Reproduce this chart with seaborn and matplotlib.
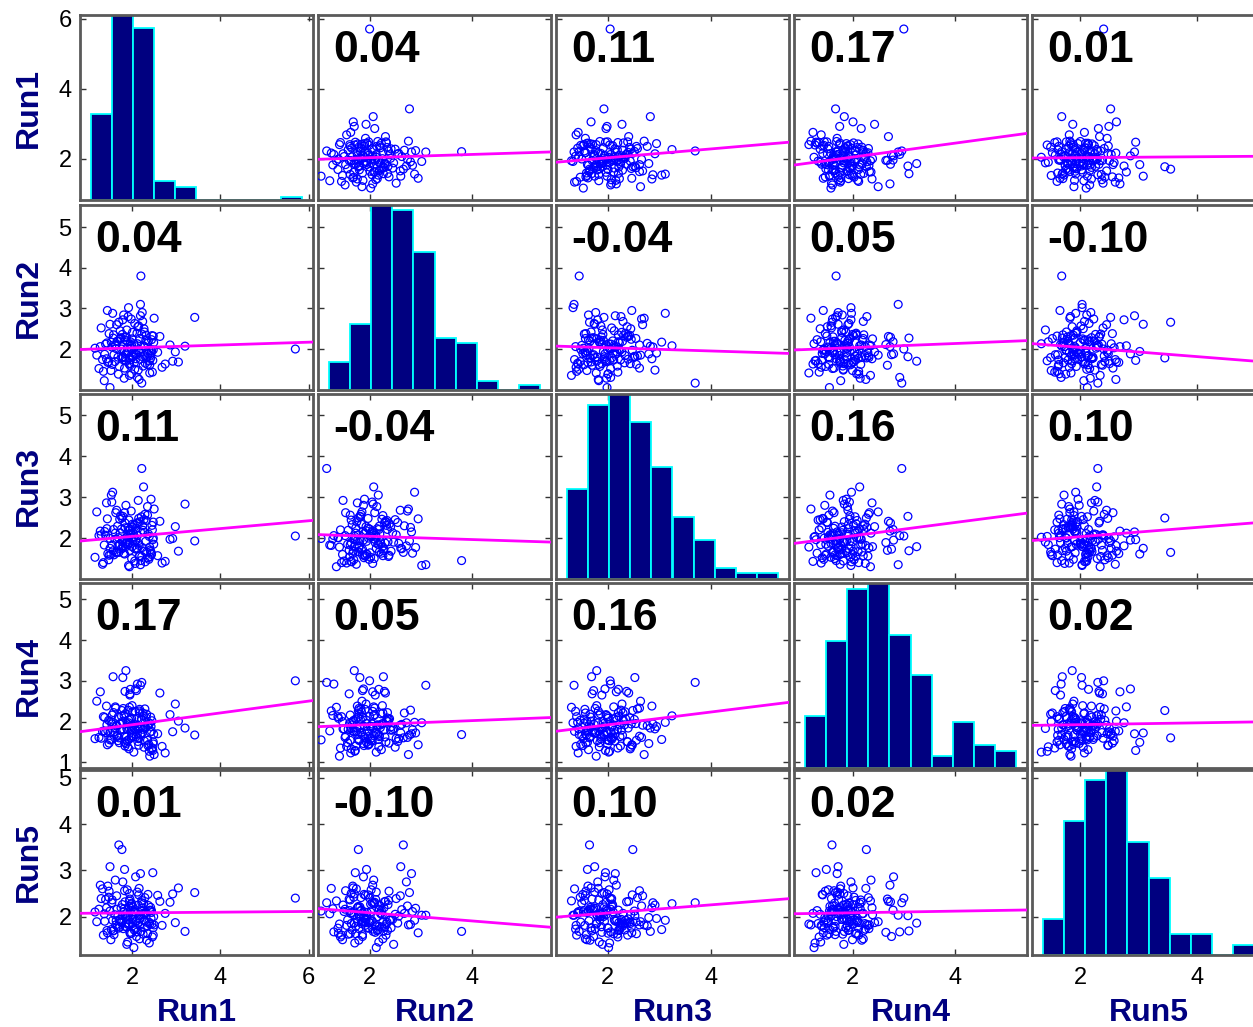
import numpy as np
import pandas as pd
import seaborn as sns
import matplotlib.pyplot as plt

# ---- data: five runs, 150 observations each ----
run1 = [5.70, 2.20, 2.22, 1.70, 1.77, 1.86, 2.31, 1.92, 1.48, 2.05,
        2.41, 1.63, 2.15, 1.35, 1.98, 2.47, 2.63, 1.81, 2.09, 1.55,
        1.74, 2.36, 1.99, 2.12, 1.42, 1.88, 2.28, 3.05, 1.67, 2.19,
        2.02, 1.58, 2.44, 1.93, 1.79, 2.26, 1.25, 2.10, 1.84, 2.38,
        1.96, 2.49, 1.65, 2.17, 1.50, 2.01, 2.33, 1.89, 2.75, 1.72,
        2.23, 1.38, 1.95, 2.14, 1.83, 2.45, 1.61, 2.07, 1.30, 2.29,
        1.90, 2.40, 1.76, 3.42, 2.18, 1.57, 2.03, 1.94, 2.35, 1.68,
        2.11, 1.45, 2.48, 1.85, 2.25, 1.99, 1.20, 2.06, 2.39, 1.78,
        2.58, 1.91, 2.16, 1.53, 2.42, 1.73, 2.08, 1.44, 2.30, 1.40,
        1.87, 2.21, 1.64, 2.46, 2.00, 1.33, 2.13, 1.82, 3.20, 1.95,
        2.37, 1.59, 2.24, 1.71, 2.04, 1.47, 2.50, 1.89, 2.19, 1.80,
        1.16, 2.32, 1.94, 2.12, 1.66, 2.43, 2.86, 1.84, 2.27, 1.52,
        2.01, 1.75, 2.35, 1.92, 1.28, 2.09, 2.44, 1.69, 2.15, 1.98,
        2.92, 1.43, 2.22, 1.86, 2.40, 1.62, 2.06, 2.48, 1.79, 1.56,
        2.28, 1.93, 2.98, 1.37, 2.17, 1.83, 1.54, 2.68, 1.96, 1.50]

run2 = [2.00, 3.80, 1.16, 2.66, 1.78, 1.70, 2.21, 1.93, 2.38, 1.66,
        1.84, 2.10, 2.57, 1.45, 2.02, 1.72, 2.31, 2.84, 1.97, 1.62,
        2.26, 1.89, 1.39, 2.13, 1.76, 2.47, 2.05, 1.68, 2.19, 3.10,
        1.81, 2.35, 1.95, 1.64, 2.72, 2.08, 1.52, 1.86, 2.29, 1.99,
        1.73, 2.16, 2.60, 1.91, 1.05, 2.41, 1.79, 2.03, 1.63, 2.24,
        2.90, 1.87, 2.11, 1.48, 1.94, 2.33, 1.69, 2.06, 2.52, 1.83,
        2.18, 1.61, 2.00, 2.78, 1.75, 2.27, 1.90, 1.35, 2.14, 1.80,
        2.39, 1.67, 1.98, 2.22, 1.58, 2.09, 1.85, 2.63, 1.71, 2.36,
        1.92, 2.80, 1.25, 2.17, 1.77, 2.45, 1.88, 2.95, 1.65, 2.12,
        2.30, 1.82, 2.01, 1.43, 2.25, 1.74, 2.55, 1.28, 2.07, 1.60,
        2.20, 1.86, 2.68, 1.57, 2.13, 1.69, 2.76, 1.94, 2.82, 1.79,
        2.02, 2.34, 1.64, 1.30, 2.19, 1.90, 2.10, 1.73, 2.50, 1.47,
        1.84, 2.28, 1.62, 3.02, 2.06, 1.76, 2.23, 1.38, 1.97, 2.74,
        1.70, 2.15, 2.37, 1.88, 1.41, 2.08, 1.50, 2.32, 1.81, 2.88,
        2.42, 1.78, 1.93, 1.22, 2.26, 1.53, 2.05, 1.55, 2.18, 2.61]

run3 = [2.05, 1.45, 3.70, 1.65, 2.49, 1.79, 1.92, 2.18, 1.58, 2.33,
        1.71, 2.62, 1.87, 1.40, 2.09, 1.96, 2.41, 1.63, 2.24, 1.83,
        2.55, 1.52, 2.01, 1.75, 2.86, 1.90, 2.14, 1.68, 2.29, 1.35,
        1.94, 2.21, 1.60, 2.44, 1.81, 3.25, 2.06, 1.73, 2.37, 1.48,
        2.12, 1.85, 2.68, 1.56, 1.99, 2.27, 1.66, 2.03, 1.43, 2.46,
        1.77, 2.16, 1.89, 2.92, 1.61, 2.31, 1.97, 1.38, 2.08, 2.58,
        1.84, 1.54, 2.22, 1.93, 2.40, 1.69, 2.11, 1.30, 2.77, 1.80,
        2.35, 1.62, 2.00, 1.86, 2.19, 1.50, 2.64, 1.74, 2.04, 1.91,
        1.57, 2.26, 1.82, 3.05, 1.67, 2.13, 1.95, 2.47, 1.42, 2.07,
        1.88, 2.52, 1.64, 2.20, 1.79, 1.36, 2.38, 1.98, 2.83, 1.70,
        2.10, 1.59, 2.30, 1.85, 2.02, 1.47, 2.71, 1.92, 2.15, 1.76,
        1.53, 2.43, 1.89, 2.06, 1.66, 2.95, 1.97, 2.25, 2.45, 1.60,
        2.34, 1.73, 2.56, 1.33, 2.17, 1.94, 1.63, 2.01, 2.48, 2.66,
        1.99, 2.23, 1.55, 2.80, 1.78, 2.12, 1.44, 2.39, 2.53, 3.12,
        1.68, 2.08, 2.28, 1.83, 1.57, 2.62, 2.88, 1.39, 2.21, 1.75]

run4 = [3.00, 1.68, 2.96, 1.60, 2.27, 3.25, 1.85, 2.04, 1.47, 1.92,
        1.74, 2.33, 1.58, 2.12, 1.88, 1.29, 2.70, 1.80, 1.63, 2.16,
        1.95, 1.41, 2.08, 1.71, 2.38, 1.83, 1.52, 2.01, 1.66, 2.89,
        1.89, 2.22, 1.76, 1.33, 1.97, 2.14, 1.61, 2.76, 2.74, 1.44,
        2.06, 1.69, 1.91, 2.30, 1.55, 1.79, 2.18, 1.53, 1.23, 1.94,
        1.72, 2.10, 2.65, 1.82, 1.49, 2.02, 1.75, 2.25, 1.59, 2.31,
        1.38, 1.96, 2.13, 1.67, 1.84, 3.10, 1.62, 2.35, 1.90, 1.53,
        2.07, 1.77, 1.45, 2.19, 1.81, 1.65, 2.50, 1.93, 1.27, 2.00,
        1.70, 2.28, 2.26, 1.56, 2.11, 1.79, 2.80, 1.43, 1.98, 1.73,
        1.62, 2.05, 1.89, 1.35, 2.39, 1.76, 1.51, 2.15, 1.84, 2.68,
        1.91, 1.66, 2.21, 1.48, 1.25, 2.03, 1.19, 1.95, 1.70, 2.32,
        1.58, 2.09, 1.83, 2.92, 1.63, 1.88, 2.17, 1.40, 1.37, 2.00,
        2.24, 1.79, 1.54, 1.97, 2.73, 1.68, 1.31, 2.12, 1.42, 1.61,
        1.75, 1.92, 2.06, 1.46, 1.15, 2.36, 1.82, 1.50, 3.08, 1.98,
        1.87, 1.56, 2.43, 1.77, 2.21, 1.64, 1.94, 1.39, 2.79, 1.72]

run5 = [2.40, 1.68, 2.30, 3.55, 3.45, 1.86, 2.08, 1.93, 2.55, 1.71,
        2.14, 1.82, 2.01, 1.60, 2.27, 2.95, 2.33, 2.11, 1.75, 2.36,
        1.89, 2.48, 1.64, 2.53, 2.19, 1.40, 1.91, 2.62, 1.79, 2.03,
        2.21, 1.70, 2.09, 1.85, 2.75, 2.28, 2.16, 1.57, 2.32, 1.88,
        1.63, 2.00, 2.45, 1.81, 2.12, 1.94, 1.49, 2.58, 2.07, 1.77,
        2.18, 1.90, 1.66, 2.25, 3.02, 1.84, 2.04, 1.73, 2.39, 2.41,
        1.45, 2.13, 1.87, 2.52, 1.95, 1.69, 2.10, 2.34, 1.80, 2.02,
        1.92, 2.66, 1.76, 2.06, 1.62, 2.29, 1.89, 2.15, 1.43, 2.26,
        2.46, 1.83, 2.61, 1.72, 2.20, 1.94, 2.86, 1.65, 2.09, 2.37,
        1.78, 2.12, 1.91, 1.56, 2.04, 2.60, 1.86, 2.17, 1.68, 2.38,
        2.24, 1.61, 2.07, 1.93, 1.33, 2.42, 1.82, 2.00, 2.93, 1.74,
        2.10, 1.88, 2.50, 1.67, 2.16, 1.96, 2.31, 1.79, 2.05, 1.50,
        1.85, 2.19, 1.63, 2.03, 2.68, 1.90, 2.13, 1.75, 2.47, 2.23,
        2.49, 1.70, 2.35, 1.98, 1.84, 2.79, 2.11, 1.60, 2.02, 1.92,
        1.76, 2.22, 1.87, 2.06, 1.52, 2.56, 2.30, 1.81, 2.14, 3.08]

names = ["Run1", "Run2", "Run3", "Run4", "Run5"]

# pairwise correlation coefficients printed in the off-diagonal panels
corr_labels = [[1.00, 0.04, 0.11, 0.17, 0.01],
               [0.04, 1.00, -0.04, 0.05, -0.10],
               [0.11, -0.04, 1.00, 0.16, 0.10],
               [0.17, 0.05, 0.16, 1.00, 0.02],
               [0.01, -0.10, 0.10, 0.02, 1.00]]

df = pd.DataFrame(dict(zip(names, [run1, run2, run3, run4, run5])))

# ---- axis setup per variable ----
axis_limits = {"Run1": (0.82, 6.10), "Run2": (0.99, 5.55), "Run3": (1.00, 5.52),
               "Run4": (0.86, 5.40), "Run5": (1.17, 5.17)}
x_ticks = {"Run1": [2, 4, 6], "Run2": [2, 4], "Run3": [2, 4],
           "Run4": [2, 4], "Run5": [2, 4]}
y_ticks = {"Run1": [2, 4, 6], "Run2": [2, 3, 4, 5], "Run3": [2, 3, 4, 5],
           "Run4": [1, 2, 3, 4, 5], "Run5": [2, 3, 4, 5]}

sns.set_theme(style="white")
plt.rcParams["font.family"] = ["Liberation Sans", "DejaVu Sans"]

W, H = 1253, 1027
fig = plt.figure(figsize=(W / 100, H / 100), dpi=100)

col_left = [80, 318, 556, 794, 1032]
row_top = [15, 205, 394, 583, 770]
panel_w, panel_h = 233, 185

NAVY = "#000080"
FRAME = "#5a5a5a"

n = len(names)
for i, yname in enumerate(names):
    for j, xname in enumerate(names):
        ax = fig.add_axes([col_left[j] / W, 1 - (row_top[i] + panel_h) / H,
                           panel_w / W, panel_h / H])
        ax.set_xlim(*axis_limits[xname])
        ax.set_ylim(*axis_limits[yname])
        ax.set_xticks(x_ticks[xname])
        ax.set_yticks(y_ticks[yname])
        ax.tick_params(direction="in", length=4, width=1, color="#333333",
                       top=True, right=True, bottom=True, left=True,
                       labelsize=17, labelcolor="black", pad=6)
        ax.tick_params(axis="x", pad=9)
        if j != 0:
            ax.tick_params(labelleft=False)
        if i != n - 1:
            ax.tick_params(labelbottom=False)
        for sp in ax.spines.values():
            sp.set_color(FRAME)
            sp.set_linewidth(2.0)

        if i == j:
            vals = np.asarray(df[xname])
            lo, hi = vals.min(), vals.max()
            rng = hi - lo
            hax = ax.inset_axes([0, 0, 1, 1])
            hax.set_zorder(2)
            sns.histplot(x=vals, bins=10, binrange=(lo, hi), ax=hax,
                         color=NAVY, edgecolor="#00ffff", linewidth=1.3,
                         alpha=1.0)
            counts, _ = np.histogram(vals, bins=10, range=(lo, hi))
            hax.set_xlim(lo - 0.05 * rng, hi + 0.05 * rng)
            hax.set_ylim(0, counts.max())
            hax.axis("off")
            hax.patch.set_visible(False)
        else:
            xv = np.asarray(df[xname])
            yv = np.asarray(df[yname])
            sns.scatterplot(x=xv, y=yv, ax=ax, marker="o", s=32,
                            facecolors="none", edgecolor="#0000ff",
                            linewidth=0.9, zorder=3)
            # least-squares line implied by the printed correlation
            r = corr_labels[i][j]
            slope = r * yv.std() / xv.std()
            xl = np.array(axis_limits[xname])
            yl = yv.mean() + slope * (xl - xv.mean())
            sns.lineplot(x=xl, y=yl, ax=ax, color="#ff00ff", linewidth=2.0,
                         zorder=4)
            ax.text(0.065, 0.92, f"{r:.2f}", transform=ax.transAxes,
                    ha="left", va="top", fontsize=32, fontweight="bold",
                    color="black", zorder=5)

        if j == 0:
            ax.set_ylabel(yname, color=NAVY, fontsize=23, fontweight="bold")
            ax.yaxis.set_label_coords(-0.155, 0.5)
        if i == n - 1:
            ax.set_xlabel(xname, color=NAVY, fontsize=23, fontweight="bold")
            ax.xaxis.set_label_coords(0.5, -0.235)

fig.savefig("out.png", dpi=100)
